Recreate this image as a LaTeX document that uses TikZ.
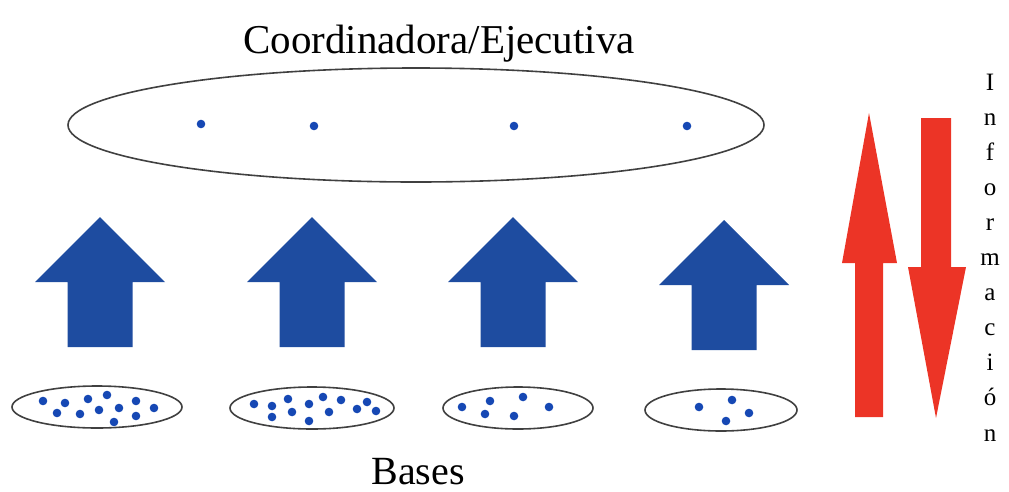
\documentclass[tikz,border=0pt]{standalone}
\usepackage{fontspec}
\setmainfont{Liberation Serif}
\usetikzlibrary{shapes.geometric}
\begin{document}
\begin{tikzpicture}[x=1pt,y=-1pt,
  ring/.style={draw=black!75,line width=1.6pt,ellipse,inner sep=0pt},
  dot/.style={fill=dotblue,draw=none},
  bluearrow/.style={fill=arrowblue,draw=none},
  redarrow/.style={fill=arrowred,draw=none},
  lbl/.style={inner sep=0pt,anchor=base},
  vlbl/.style={font=\fontsize{25}{25}\selectfont,anchor=base,inner sep=0pt}]
\definecolor{dotblue}{RGB}{22,72,180}
\definecolor{arrowblue}{RGB}{30,76,160}
\definecolor{arrowred}{RGB}{236,52,38}
\useasboundingbox (0,0) rectangle (1009,491);
% title
\node[lbl,font=\fontsize{41}{41}\selectfont] (title) at (439,53) {Coordinadora/Ejecutiva};
\node[lbl,font=\fontsize{40}{40}\selectfont] (bases) at (418,484) {Bases};
% top ellipse
\node[ring,minimum width=696pt,minimum height=114pt] (top) at (416,125) {};
\foreach \x/\y in {201/124,314/126,514/126,687/126} \fill[dot] (\x,\y) circle (4.3pt);
% bottom ellipses
\node[ring,minimum width=170pt,minimum height=42pt] (b1) at (97,407) {};
\node[ring,minimum width=164pt,minimum height=42pt] (b2) at (312,408) {};
\node[ring,minimum width=150pt,minimum height=42pt] (b3) at (518,408) {};
\node[ring,minimum width=152pt,minimum height=42pt] (b4) at (721,410) {};
\foreach \x/\y in {43/401,65/403,88/399,107/395,136/401,154/408,57/413,80/414,99/410,119/408,136/416,114/422,
  254/404,272/406,288/399,309/404,323/397,341/400,367/402,272/417,292/412,329/412,357/409,376/411,309/421,
  462/407,490/401,523/397,549/407,485/414,514/416,
  699/407,732/400,749/413,726/421}
  \fill[dot] (\x,\y) circle (4.3pt);
% blue arrows
\foreach \c/\dy in {100/0,312/0,513/0,724/3}
  \fill[bluearrow] (\c,217+\dy) -- (\c+65,282+\dy) -- (\c+32.5,282+\dy) -- (\c+32.5,347+\dy)
     -- (\c-32.5,347+\dy) -- (\c-32.5,282+\dy) -- (\c-65,282+\dy) -- cycle;
% red arrows
\fill[redarrow] (869,113) -- (897,263) -- (883,263) -- (883,417) -- (855,417) -- (855,263) -- (842,263) -- cycle;
\fill[redarrow] (936,418) -- (966,267) -- (951,267) -- (951,118) -- (921,118) -- (921,267) -- (908,267) -- cycle;
% vertical label
\foreach \ch [count=\i from 0] in {I,n,f,o,r,m,a,c,i,ó,n}
  \node[vlbl] at (990,{90+35.1*\i}) {\ch};
\end{tikzpicture}
\end{document}
